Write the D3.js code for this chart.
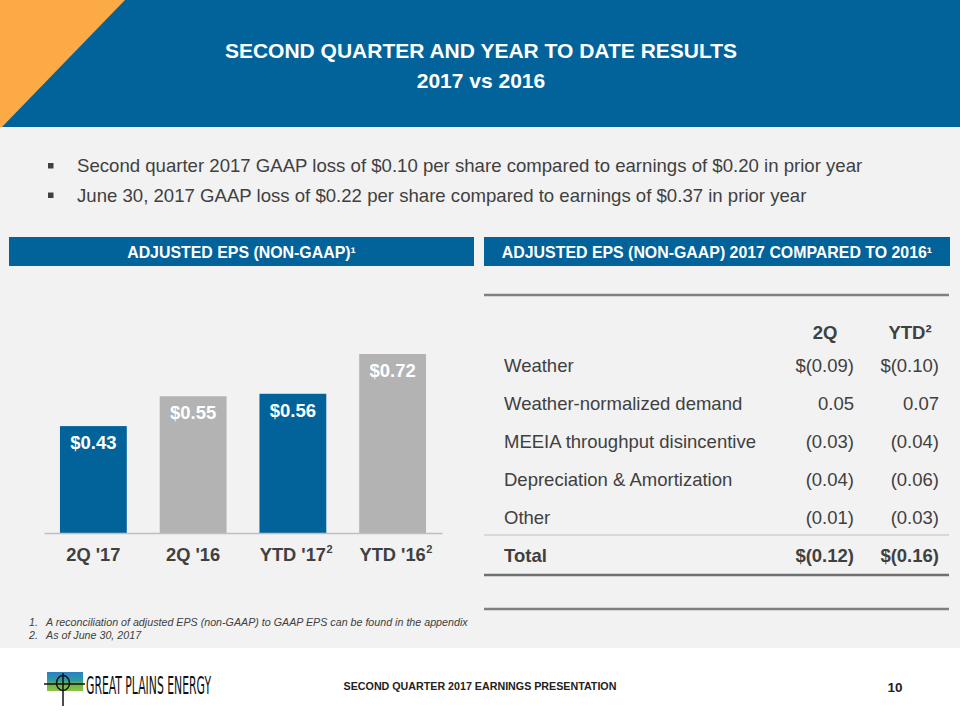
<!DOCTYPE html>
<html>
<head>
<meta charset="utf-8">
<script src="https://cdn.jsdelivr.net/npm/d3@7"></script>
<style>
  html, body { margin: 0; padding: 0; background: #ffffff; }
  svg { display: block; font-family: "Liberation Sans", Arial, sans-serif; }
</style>
</head>
<body>
<svg id="chart" width="960" height="720"></svg>
<script>
// ---------- DATA ----------
const titleLines = ["SECOND QUARTER AND YEAR TO DATE RESULTS", "2017 vs 2016"];
const bullets = [
  "Second quarter 2017 GAAP loss of $0.10 per share compared to earnings of $0.20 in prior year",
  "June 30, 2017 GAAP loss of $0.22 per share compared to earnings of $0.37 in prior year"
];
const chartTitle = "ADJUSTED EPS (NON-GAAP)\u00B9";
const tableTitle = "ADJUSTED EPS (NON-GAAP) 2017 COMPARED TO 2016\u00B9";

const categories = ["2Q '17", "2Q '16", "YTD '17", "YTD '16"];
const categorySup = ["", "", "2", "2"];
const categoryYear = ["2017", "2016", "2017", "2016"];
const epsValues = [0.43, 0.55, 0.56, 0.72];

const tableColumns = ["2Q", "YTD\u00B2"];
const tableRows = ["Weather", "Weather-normalized demand", "MEEIA throughput disincentive", "Depreciation & Amortization", "Other"];
const q2Values = [-0.09, 0.05, -0.03, -0.04, -0.01];
const ytdValues = [-0.10, 0.07, -0.04, -0.06, -0.03];
const totalLabel = "Total";
const totalValues = [-0.12, -0.16];

const footnotes = [
  "A reconciliation of adjusted EPS (non-GAAP) to GAAP EPS can be found in the appendix",
  "As of June 30, 2017"
];
const footerText = "SECOND QUARTER 2017 EARNINGS PRESENTATION";
const pageNumber = "10";
const logoText = "GREAT PLAINS ENERGY";

// ---------- STYLE ----------
const BLUE = "#02639A", ORANGE = "#FBAA45", GREY_BAR = "#B3B3B3", BG = "#F2F2F2", TEXT = "#404040";

const svg = d3.select("#chart");

// background panels
svg.append("rect").attr("x", 0).attr("y", 0).attr("width", 960).attr("height", 720).attr("fill", "#ffffff");
svg.append("rect").attr("x", 0).attr("y", 127).attr("width", 960).attr("height", 521).attr("fill", BG);
svg.append("rect").attr("x", 0).attr("y", 0).attr("width", 960).attr("height", 127).attr("fill", BLUE);
svg.append("path").attr("d", "M0,0 L125,0 L2,127 L0,127 Z").attr("fill", ORANGE);

// title
svg.selectAll("text.title").data(titleLines).join("text")
  .attr("class", "title")
  .attr("x", 481).attr("y", (d, i) => 58 + i * 30)
  .attr("text-anchor", "middle").attr("fill", "#fff")
  .attr("font-size", 21).attr("font-weight", "bold")
  .text(d => d);

// bullets
const bg = svg.append("g");
bullets.forEach((b, i) => {
  const yb = 172 + i * 29.5;
  bg.append("rect").attr("x", 48).attr("y", yb - 9).attr("width", 5.5).attr("height", 5.5).attr("fill", TEXT);
  bg.append("text").attr("x", 77).attr("y", yb).attr("font-size", 18.6).attr("fill", TEXT).text(b);
});

// section headers
function header(x, w, txt) {
  svg.append("rect").attr("x", x).attr("y", 237).attr("width", w).attr("height", 29).attr("fill", BLUE);
  svg.append("text").attr("x", x + w / 2).attr("y", 258).attr("text-anchor", "middle")
    .attr("fill", "#fff").attr("font-size", 15.9).attr("font-weight", "bold").text(txt);
}
header(9, 465, chartTitle);
header(484, 466, tableTitle);

// ---------- BAR CHART ----------
const x = d3.scaleBand().domain(categories).range([44, 442]).paddingInner(0.33).paddingOuter(0.16);
const y = d3.scaleLinear().domain([0, 0.72]).range([533, 354]);
const color = d3.scaleOrdinal().domain(["2017", "2016"]).range([BLUE, GREY_BAR]);
const fmt = d3.format("$.2f");

const chart = svg.append("g");
chart.selectAll("rect.bar").data(epsValues).join("rect")
  .attr("class", "bar")
  .attr("x", (d, i) => x(categories[i]))
  .attr("y", d => y(d))
  .attr("width", x.bandwidth())
  .attr("height", d => y(0) - y(d))
  .attr("fill", (d, i) => color(categoryYear[i]));

chart.selectAll("text.val").data(epsValues).join("text")
  .attr("class", "val")
  .attr("x", (d, i) => x(categories[i]) + x.bandwidth() / 2)
  .attr("y", d => y(d) + 23)
  .attr("text-anchor", "middle").attr("fill", "#fff")
  .attr("font-size", 18.5).attr("font-weight", "bold")
  .text(d => fmt(d));

// axis
const xAxis = d3.axisBottom(x).tickSize(0).tickPadding(0).tickFormat("");
const axisG = chart.append("g").attr("transform", `translate(0,${y(0)})`).call(xAxis);
axisG.select(".domain").attr("stroke", "#BFBFBF").attr("stroke-width", 1.5);

categories.forEach((c, i) => {
  const cx = x(c) + x.bandwidth() / 2;
  const t = chart.append("text").attr("x", cx).attr("y", 561).attr("text-anchor", "middle")
    .attr("fill", TEXT).attr("font-size", 18.3).attr("font-weight", "bold").text(c);
  if (categorySup[i]) {
    const w = t.node().getComputedTextLength();
    chart.append("text").attr("x", cx + w / 2 + 0.5).attr("y", 553)
      .attr("fill", TEXT).attr("font-size", 11).attr("font-weight", "bold").text(categorySup[i]);
  }
});

// ---------- TABLE ----------
const tbl = svg.append("g");
const colRight = [854, 939];
const colCenter = [825, 910];
const rowY = d3.scaleLinear().domain([0, 1]).range([372, 410]);
const numFmt = (v, dollar) => (dollar ? "$" : "") + (v < 0 ? "(" + Math.abs(v).toFixed(2) + ")" : v.toFixed(2));

tbl.append("line").attr("x1", 484).attr("x2", 949).attr("y1", 295).attr("y2", 295).attr("stroke", "#808080").attr("stroke-width", 2.5);
tbl.append("line").attr("x1", 484).attr("x2", 949).attr("y1", 535).attr("y2", 535).attr("stroke", "#BFBFBF").attr("stroke-width", 1);
tbl.append("line").attr("x1", 484).attr("x2", 949).attr("y1", 575).attr("y2", 575).attr("stroke", "#6F6F6F").attr("stroke-width", 2.5);
tbl.append("line").attr("x1", 484).attr("x2", 949).attr("y1", 609).attr("y2", 609).attr("stroke", "#808080").attr("stroke-width", 2.5);

tableColumns.forEach((c, j) => {
  tbl.append("text").attr("x", colCenter[j]).attr("y", 339).attr("text-anchor", "middle")
    .attr("fill", TEXT).attr("font-size", 18.5).attr("font-weight", "bold").text(c);
});

tableRows.forEach((r, i) => {
  const yy = rowY(i);
  tbl.append("text").attr("x", 504).attr("y", yy).attr("fill", TEXT).attr("font-size", 18.5).text(r);
  [q2Values[i], ytdValues[i]].forEach((v, j) => {
    tbl.append("text").attr("x", colRight[j]).attr("y", yy).attr("text-anchor", "end")
      .attr("fill", TEXT).attr("font-size", 18.5).text(numFmt(v, i === 0));
  });
});
tbl.append("text").attr("x", 504).attr("y", 562).attr("fill", TEXT).attr("font-size", 18.5).attr("font-weight", "bold").text(totalLabel);
totalValues.forEach((v, j) => {
  tbl.append("text").attr("x", colRight[j]).attr("y", 562).attr("text-anchor", "end")
    .attr("fill", TEXT).attr("font-size", 18.5).attr("font-weight", "bold").text(numFmt(v, true));
});

// ---------- FOOTNOTES ----------
footnotes.forEach((f, i) => {
  const yy = 626 + i * 13;
  svg.append("text").attr("x", 29).attr("y", yy).attr("fill", TEXT).attr("font-size", 10.7).attr("font-style", "italic").text((i + 1) + ".");
  svg.append("text").attr("x", 46).attr("y", yy).attr("fill", TEXT).attr("font-size", 10.7).attr("font-style", "italic").text(f);
});

// ---------- FOOTER ----------
svg.append("text").attr("x", 480).attr("y", 690).attr("text-anchor", "middle")
  .attr("fill", "#222").attr("font-size", 10.7).attr("font-weight", "bold").text(footerText);
svg.append("text").attr("x", 895).attr("y", 692).attr("text-anchor", "middle")
  .attr("fill", "#222").attr("font-size", 13.5).attr("font-weight", "bold").text(pageNumber);

// logo
const logo = svg.append("g");
const lg = svg.append("defs").append("linearGradient").attr("id", "lg").attr("x1", 0).attr("y1", 0).attr("x2", 0).attr("y2", 1);
lg.append("stop").attr("offset", "0").attr("stop-color", "#2B7FC2");
lg.append("stop").attr("offset", "0.45").attr("stop-color", "#2E9AA8");
lg.append("stop").attr("offset", "0.6").attr("stop-color", "#6DB33F");
lg.append("stop").attr("offset", "1").attr("stop-color", "#8BC34A");
logo.append("rect").attr("x", 47).attr("y", 672).attr("width", 36).attr("height", 19).attr("fill", "url(#lg)");
logo.append("line").attr("x1", 44).attr("x2", 85).attr("y1", 684).attr("y2", 684).attr("stroke", "#111").attr("stroke-width", 1.5);
logo.append("ellipse").attr("cx", 63).attr("cy", 683).attr("rx", 6.5).attr("ry", 7.5).attr("fill", "none").attr("stroke", "#111").attr("stroke-width", 1.5);
logo.append("line").attr("x1", 63).attr("x2", 63).attr("y1", 673).attr("y2", 706).attr("stroke", "#111").attr("stroke-width", 1.5);
logo.append("text").attr("x", 86).attr("y", 694).attr("fill", "#111")
  .attr("font-family", "'Liberation Sans Narrow', 'DejaVu Sans Condensed', sans-serif")
  .attr("font-size", 24).attr("textLength", 125).attr("lengthAdjust", "spacingAndGlyphs").text(logoText);
</script>
</body>
</html>
